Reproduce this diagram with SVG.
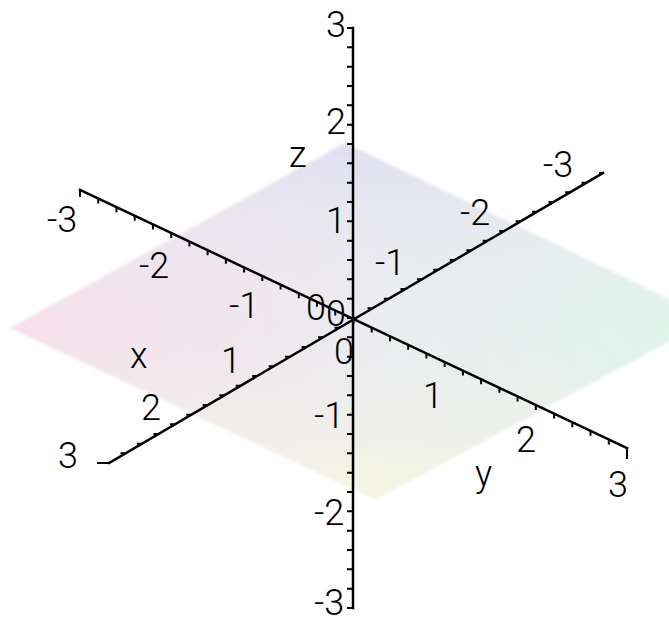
<svg xmlns="http://www.w3.org/2000/svg" width="669" height="625" viewBox="0 0 669 625">
<style>
.ax{stroke:#000;stroke-width:2.5;fill:none;stroke-linecap:square}
.tk{stroke:#000;stroke-width:2;fill:none}
text{font-family:Roboto,"Liberation Sans",Arial,sans-serif;font-weight:300;font-size:36px;fill:#000}
</style>
<defs>
<linearGradient id="gh" gradientUnits="userSpaceOnUse" x1="10" y1="0" x2="711" y2="0">
<stop offset="0" stop-color="#f8dfea"/>
<stop offset="0.5" stop-color="#ebebef"/>
<stop offset="1" stop-color="#dcf5ea"/>
</linearGradient>
<linearGradient id="gv" gradientUnits="userSpaceOnUse" x1="0" y1="143" x2="0" y2="500">
<stop offset="0" stop-color="#dedef3" stop-opacity="0.9"/>
<stop offset="0.5" stop-color="#ececec" stop-opacity="0"/>
<stop offset="1" stop-color="#f7f7e2" stop-opacity="0.95"/>
</linearGradient>
<filter id="soft" x="-5%" y="-5%" width="110%" height="110%"><feGaussianBlur stdDeviation="1.5"/></filter>
</defs>
<rect width="669" height="625" fill="#fff"/>
<g id="plane" filter="url(#soft)">
<polygon points="10,328 345,143 711,319 375,500" fill="url(#gh)"/>
<polygon points="10,328 345,143 711,319 375,500" fill="url(#gv)"/>
</g>
<g id="axes">
<g id="z-axis">
<line class="ax" x1="353" y1="28" x2="353" y2="608"/>
<line x1="350" y1="27" x2="350" y2="610" stroke="#000" stroke-width="6" stroke-dasharray="2 17.333"/>
</g>
<g id="y-axis">
<line class="ax" x1="80" y1="190" x2="627" y2="448"/>
<path class="tk" d="M80 190v7M98.2 198.6v5M116.5 207.2v5M134.7 215.8v5M152.9 224.4v5M171.2 233v5M189.4 241.6v5M207.6 250.2v5M225.9 258.8v5M244.1 267.4v5M262.3 276v5M280.6 284.6v5M298.8 293.2v5M317 301.8v5M335.3 310.4v5M353.5 319v5M371.7 327.6v5M390 336.2v5M408.2 344.8v5M426.4 353.4v5M444.7 362v5M462.9 370.6v5M481.1 379.2v5M499.4 387.8v5M517.6 396.4v5M535.8 405v5M554.1 413.6v5M572.3 422.2v5M590.5 430.8v5M608.8 439.4v5M627 448v11"/>
</g>
<g id="x-axis">
<line class="ax" x1="109" y1="463" x2="603" y2="173"/>
<path class="tk" d="M109 463h-12M125.5 453.3h-5M141.9 443.7h-5M158.4 434h-5M174.9 424.3h-5M191.3 414.7h-5M207.8 405h-5M224.3 395.3h-5M240.7 385.7h-5M257.2 376h-5M273.7 366.3h-5M290.1 356.7h-5M306.6 347h-5M323.1 337.3h-5M339.5 327.7h-5M356 318h-5M372.5 308.3h-5M388.9 298.7h-5M405.4 289h-5M421.9 279.3h-5M438.3 269.7h-5M454.8 260h-5M471.3 250.3h-5M487.7 240.7h-5M504.2 231h-5M520.7 221.3h-5M537.1 211.7h-5M553.6 202h-5M570.1 192.3h-5M586.5 182.7h-5M603 173h-4"/>
</g>
</g>
<g id="z-labels">
<text x="326" y="37">3</text>
<text x="326" y="134">2</text>
<text x="326" y="233">1</text>
<text x="334" y="364">0</text>
<text x="314" y="428">-1</text>
<text x="314" y="525">-2</text>
<text x="314" y="615">-3</text>
<text x="289" y="167">z</text>
</g>
<g id="y-labels">
<text x="47" y="232">-3</text>
<text x="139" y="278">-2</text>
<text x="229" y="318">-1</text>
<text x="306" y="320">0</text>
<text x="423" y="408">1</text>
<text x="516" y="452">2</text>
<text x="608" y="497">3</text>
<text x="475" y="486">y</text>
</g>
<g id="x-labels">
<text x="58" y="468">3</text>
<text x="141" y="420">2</text>
<text x="221" y="373">1</text>
<text x="130" y="368">x</text>
<text x="326" y="326">0</text>
<text x="375" y="275">-1</text>
<text x="460" y="225">-2</text>
<text x="543" y="177">-3</text>
</g>
</svg>
